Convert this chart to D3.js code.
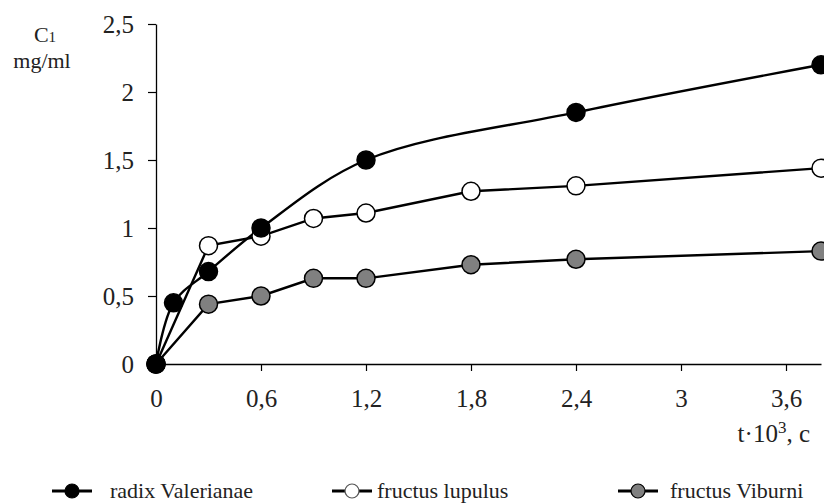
<!DOCTYPE html>
<html>
<head>
<meta charset="utf-8">
<script src="https://cdn.jsdelivr.net/npm/d3@7"></script>
<style>
  body { margin: 0; background: #fff; }
  svg { display: block; font-family: "Liberation Serif", "Times New Roman", serif; }
</style>
</head>
<body>
<div id="chart"></div>
<script>
const xTicks = [0, 0.6, 1.2, 1.8, 2.4, 3, 3.6];
const yTicks = [0, 0.5, 1, 1.5, 2, 2.5];

const valerianaeT = [0, 0.1, 0.3, 0.6, 1.2, 2.4, 3.8];
const valerianaeC = [0, 0.45, 0.68, 1.0, 1.5, 1.85, 2.2];

const lupulusT = [0, 0.3, 0.6, 0.9, 1.2, 1.8, 2.4, 3.8];
const lupulusC = [0, 0.87, 0.94, 1.07, 1.11, 1.27, 1.31, 1.44];

const viburniT = [0, 0.3, 0.6, 0.9, 1.2, 1.8, 2.4, 3.8];
const viburniC = [0, 0.44, 0.5, 0.63, 0.63, 0.73, 0.77, 0.83];

const seriesNames = ["radix Valerianae", "fructus lupulus", "fructus Viburni"];

const width = 824, height = 504;
const fmt = (d) => String(d).replace(".", ",");

const x = d3.scaleLinear().domain([0, 3.8]).range([156, 821]);
const y = d3.scaleLinear().domain([0, 2.5]).range([364, 24]);

const svg = d3.select("#chart").append("svg")
  .attr("width", width).attr("height", height);

// axes
const gx = svg.append("g").attr("transform", `translate(0,${y(0)})`)
  .call(d3.axisBottom(x).tickValues(xTicks).tickFormat(fmt).tickSize(7).tickPadding(19).tickSizeOuter(0));
const gy = svg.append("g").attr("transform", `translate(${x(0)},0)`)
  .call(d3.axisLeft(y).tickValues(yTicks).tickFormat(fmt).tickSize(8).tickPadding(14).tickSizeOuter(0));
[gx, gy].forEach((g) => {
  g.attr("font-family", null).attr("font-size", null);
  g.select(".domain").attr("stroke", "#000").attr("stroke-width", 1.3);
  g.selectAll(".tick line").attr("stroke", "#000").attr("stroke-width", 1.2);
  g.selectAll(".tick text").attr("fill", "#222").style("font-size", "25px");
});
gx.selectAll(".tick text").attr("dy", "0.66em");
gx.selectAll(".tick").filter((d) => d === 0).select("line").remove();
gy.selectAll(".tick").filter((d) => d === 0).select("line").remove();

// axis titles
const yTitle = svg.append("text").attr("x", 45).attr("y", 42).attr("text-anchor", "middle")
  .attr("fill", "#222").style("font-size", "22px");
yTitle.append("tspan").text("C");
yTitle.append("tspan").style("font-size", "15px").text("1");
svg.append("text").attr("x", 42).attr("y", 68).attr("text-anchor", "middle")
  .attr("fill", "#222").style("font-size", "22px").text("mg/ml");

const xTitle = svg.append("text").attr("x", 810).attr("y", 442).attr("text-anchor", "end")
  .attr("fill", "#222").style("font-size", "25px");
xTitle.append("tspan").text("t·10");
xTitle.append("tspan").attr("dy", -9).style("font-size", "17px").text("3");
xTitle.append("tspan").attr("dy", 9).text(", c");

// series
const series = [
  { t: valerianaeT, c: valerianaeC, fill: "#000", curve: d3.curveCatmullRom.alpha(0.5) },
  { t: lupulusT, c: lupulusC, fill: "#fff", curve: d3.curveLinear },
  { t: viburniT, c: viburniC, fill: "#808080", curve: d3.curveLinear },
].map((s, i) => ({ ...s, name: seriesNames[i], pts: s.t.map((t, j) => [t, s.c[j]]) }));

const drawOrder = [2, 1, 0];
drawOrder.forEach((i) => {
  const s = series[i];
  svg.append("path")
    .attr("fill", "none").attr("stroke", "#000").attr("stroke-width", 2.4)
    .attr("d", d3.line().x((d) => x(d[0])).y((d) => y(d[1])).curve(s.curve)(s.pts));
});
drawOrder.forEach((i) => {
  const s = series[i];
  svg.append("g").selectAll("circle").data(s.pts).join("circle")
    .attr("cx", (d) => x(d[0])).attr("cy", (d) => y(d[1])).attr("r", 9)
    .attr("fill", s.fill).attr("stroke", "#000").attr("stroke-width", 1.5);
});

// legend
const legendLine = [[52, 92], [332, 372], [618, 658]];
const legendText = [110, 377, 670];
const legend = svg.append("g").selectAll("g").data(series).join("g")
  .attr("transform", "translate(0,491)");
legend.append("line")
  .attr("x1", (d, i) => legendLine[i][0]).attr("x2", (d, i) => legendLine[i][1])
  .attr("stroke", "#000").attr("stroke-width", 3);
legend.append("circle")
  .attr("cx", (d, i) => (legendLine[i][0] + legendLine[i][1]) / 2).attr("r", 7)
  .attr("fill", (d) => d.fill).attr("stroke", (d, i) => (i === 1 ? "#555" : "#000"))
  .attr("stroke-width", 1.2);
legend.append("text").attr("x", (d, i) => legendText[i]).attr("y", 7)
  .attr("fill", "#222").style("font-size", "22px").text((d) => d.name);
</script>
</body>
</html>
